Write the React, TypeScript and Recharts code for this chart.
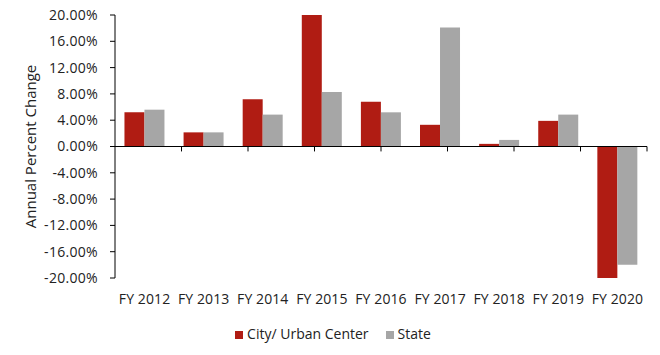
import {
  BarChart,
  Bar,
  XAxis,
  YAxis,
  Legend,
  ReferenceLine,
} from "recharts";

const categories = [
  "FY 2012", "FY 2013", "FY 2014", "FY 2015", "FY 2016",
  "FY 2017", "FY 2018", "FY 2019", "FY 2020",
];
const cityValues = [5.2, 2.15, 7.2, 20.0, 6.8, 3.3, 0.4, 3.9, -20.0];
const stateValues = [5.6, 2.15, 4.85, 8.3, 5.2, 18.1, 1.0, 4.85, -18.0];
const yTicks = [-20, -16, -12, -8, -4, 0, 4, 8, 12, 16, 20];
// category boundaries along the zero line (tick marks)
const boundaries = [1, 2, 3, 4, 5, 6, 7, 8, 9];

const RED = "#b01c13";
const GRAY = "#a6a6a6";
const FONT = "'Open Sans', sans-serif";
const TEXT = "#222";

const data = categories.map((name, i) => ({
  name,
  city: cityValues[i],
  state: stateValues[i],
}));

export default function App() {
  return (
    <div style={{ position: "absolute", left: 0, top: 0, fontFamily: FONT }}>
      <style>{"body{margin:0}"}</style>
      <BarChart
        width={660}
        height={355}
        data={data}
        margin={{ top: 15, right: 13, left: 0, bottom: 12 }}
        barCategoryGap="16%"
        barGap={0}
      >
        <XAxis
          dataKey="name"
          axisLine={false}
          tickLine={false}
          tickSize={6}
          tickMargin={10}
          height={46}
          interval={0}
          tick={{ fill: TEXT, fontSize: 14, fontFamily: FONT, letterSpacing: 0.1 }}
        />
        <XAxis xAxisId="grid" type="number" domain={[0, 9]} hide allowDataOverflow />
        <YAxis
          domain={[-20, 20]}
          ticks={yTicks}
          width={115}
          tickSize={5}
          tickMargin={12}
          interval={0}
          allowDataOverflow
          axisLine={{ stroke: "#000" }}
          tickLine={{ stroke: "#000" }}
          tickFormatter={(v: number) => `${v.toFixed(2)}%`}
          tick={{ fill: TEXT, fontSize: 14, fontFamily: FONT, letterSpacing: 0.3 }}
          label={{
            value: "Annual Percent Change",
            angle: -90,
            position: "insideLeft",
            offset: 31,
            style: { textAnchor: "middle", fill: TEXT, fontSize: 15, fontFamily: FONT },
          }}
        />
        <Legend
          verticalAlign="bottom"
          iconType="square"
          iconSize={8}
          wrapperStyle={{ fontSize: 14, fontFamily: FONT, paddingLeft: 18 }}
          formatter={(value: string) => (
            <span style={{ color: TEXT, marginRight: 7 }}>{value}</span>
          )}
        />
        <Bar dataKey="city" name="City/ Urban Center" fill={RED} isAnimationActive={false} />
        <Bar dataKey="state" name="State" fill={GRAY} isAnimationActive={false} />
        <ReferenceLine y={0} stroke="#000" strokeWidth={1.2} />
        {boundaries.map((b) => (
          <ReferenceLine
            key={b}
            xAxisId="grid"
            segment={[
              { x: b, y: 0 },
              { x: b, y: -0.75 },
            ]}
            stroke="#000"
            strokeWidth={1}
          />
        ))}
      </BarChart>
    </div>
  );
}
